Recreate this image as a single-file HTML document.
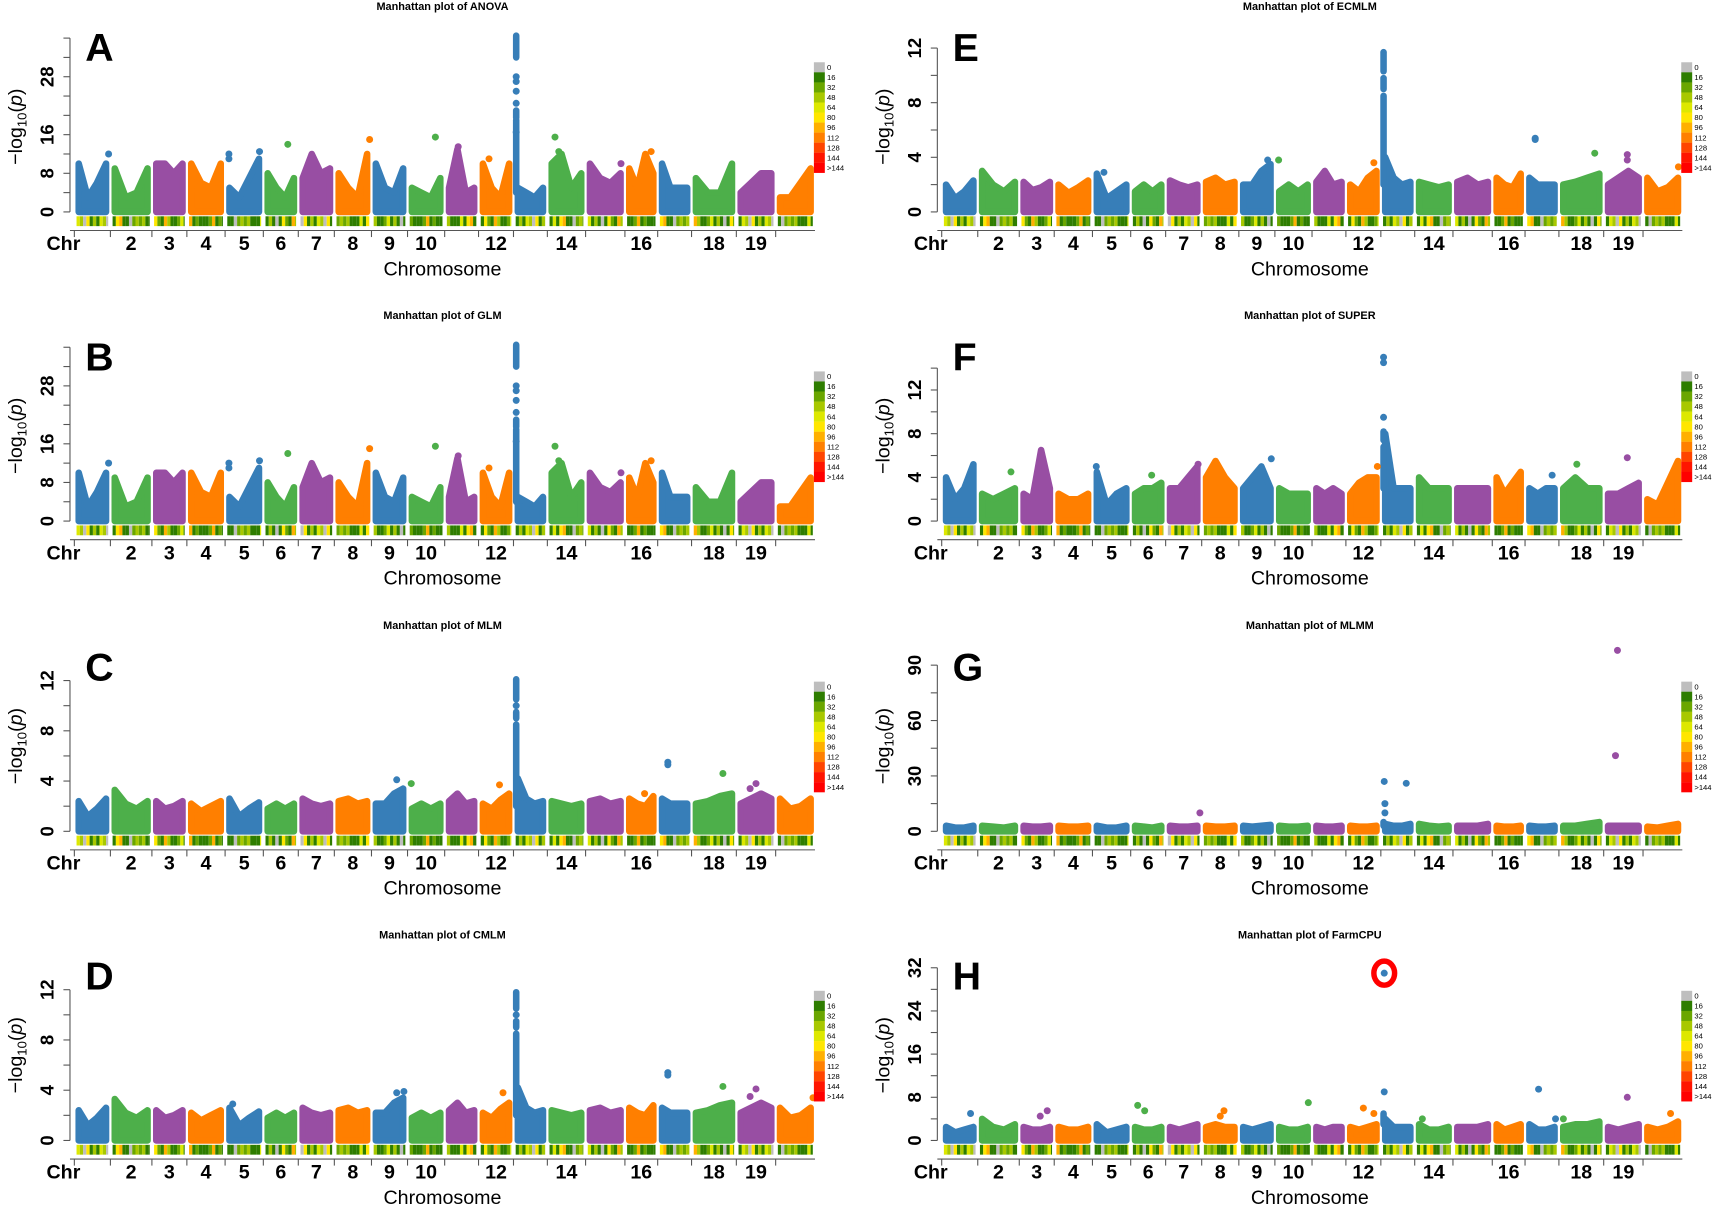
<!DOCTYPE html>
<html><head><meta charset="utf-8"><style>
html,body{margin:0;padding:0;background:#fff}
svg{display:block}
text{font-family:"Liberation Sans",sans-serif}
</style></head><body>
<svg id="fig" width="1713" height="1206" viewBox="0 0 1568 1104" xmlns="http://www.w3.org/2000/svg"></svg>
<script>
// ---- data ----
const chrLen = [33,38,32,35,35,32,33,34,33,34,31,32,31,35,36,30,31,41,36,36];
const chrTickLabels = ["Chr","2","3","4","5","6","7","8","9","10","","12","","14","","16","","18","19",""];
const envA = [[10,3,6,10],[9,3,4,9],[10,10,8,10],[10,6,5,10],[5,3,7,11],[8,5,3,7],[7,12,8,9],[8,5,3,12],[10,5,4,9],[5,4,3,7],[5,13,4,5],[10,5,3,10],[5,4,3,5],[10,12,5,8],[10,7,6,8],[9,5,12,8],[10,5,5,5],[7,4,4,10],[4,6,8,8],[3,3,6,9]];
const envE = [[2,1,1.5,2.3],[3,2,1.5,2.2],[2.2,1.6,1.8,2.2],[2,1.4,1.8,2.3],[2.8,1,1.5,2],[1.5,2,1.5,2],[2.3,2,1.8,2],[2.2,2.5,2,2.2],[2,2,3,3.5],[1.5,2,1.5,2],[2.2,3,2,2.2],[2,1.5,2.5,3],[4,2.5,2,2.2],[2.2,2,1.8,2],[2.2,2.5,2,2.2],[2.5,2,1.8,2.8],[2.5,2,2,2],[2,2.2,2.5,2.8],[2,2.5,3,2.5],[2.5,1.5,1.8,2.5]];
const envC = [[2.4,1.2,1.8,2.6],[3.3,2.2,1.8,2.4],[2.4,1.8,2,2.4],[2.2,1.6,2,2.4],[2.6,1.2,1.8,2.3],[1.8,2.2,1.8,2.2],[2.6,2.2,2,2.2],[2.4,2.6,2.2,2.4],[2.2,2.2,3,3.4],[1.8,2.2,1.8,2.2],[2.4,3,2.2,2.4],[2.2,1.8,2.5,3],[4.2,2.6,2.2,2.4],[2.4,2.2,2,2.2],[2.4,2.6,2.2,2.4],[2.6,2.2,2,2.8],[2.6,2.2,2.2,2.2],[2.2,2.4,2.8,3],[2.2,2.6,3,2.6],[2.6,1.8,2,2.6]];
const envF = [[4,2,3,5.2],[2.5,2,2.5,3],[2.5,2,6.5,3],[2.5,2,2,2.5],[4.5,1.5,2.5,3],[2.5,3,3,3.5],[3,3,4,5],[4,5.5,4,3],[3,4,5,3],[3,2.5,2.5,2.5],[3,2.5,3,2.5],[2.5,3.5,4,4],[8,3,3,3],[4,3,3,3],[3,3,3,3],[4,2.5,3.5,4.5],[3,2.5,3,3],[3,4,3,3],[2.5,2.5,3,3.5],[2,1.5,3.5,5.5]];
const envG = [[3,2,2,3],[3,2.5,2,3],[3,2.5,2.5,3],[3,2.5,2.5,3],[3,2,2,3],[3,2.5,2,3],[3,2.5,2.5,3],[3,2.5,2.5,3],[3,2.5,3,3.5],[3,2.5,2.5,3],[3,2.5,2.5,3],[3,2.5,2.5,3],[4,3,3,4],[4,3,2.5,3],[3,3,3,4],[3,2.5,2.5,3],[3,2.5,2.5,3],[3,3,4,5],[3,3,3,3],[2.5,2,3,4]];
const envH = [[2.5,1.5,2,2.5],[4,2.5,2,3],[2.5,2,2,2.5],[2.5,2,2,2.5],[3,1.5,2,2.5],[2.5,2,2,2.5],[2.5,2,2.5,3],[2.5,3,2.5,2.5],[2.5,2,2.5,3],[2.5,2,2,2.5],[2.5,2,2.5,2.5],[2.5,2,2.5,3],[4,2.5,2.5,2.5],[3,2,2,2.5],[2.5,2.5,2.5,3],[3,2,2.5,3],[3,2,2,2.5],[2.5,3,3,3.5],[2.5,2,2.5,3],[2.5,2,2.5,3.5]];
// spikes: chr, position, dense segments [from,to], single dots
const spikeChr = 13, spikePos = 0.08;
const spikeSegA = [[4,19],[19.5,21],[32,36.5]], spikeDotsA = [28,27,25,22.5,16.5];
const spikeSegC = [[2,8.5],[9,9.5],[10.5,12.1]], spikeDotsC = [10];
const spikeSegD = [[2,8.5],[9,9.5],[10.5,11.8]], spikeDotsD = [10];
const spikeSegE = [[2,8.5],[9,9.8],[10.3,11.7]], spikeDotsE = [];
const spikeSegF = [[3,6.8],[7.4,8.2]], spikeDotsF = [9.5,15,14.5];
const spikeSegG = [[3,5]], spikeDotsG = [];
const spikeSegH = [[3,5]], spikeDotsH = [];
// outliers: [chr, position, value]
const ptsA = [[1,0.95,12],[5,0.1,12],[5,0.1,11],[5,0.9,12.5],[6,0.7,14],[8,0.95,15],[10,0.75,15.5],[11,0.4,13.5],[14,0.2,15.5],[14,0.3,12.5],[15,0.9,10],[16,0.8,12.5],[12,0.3,11]];
const ptsC = [[17,0.3,5.5],[17,0.3,5.3],[9,0.7,4.1],[10,0.1,3.8],[12,0.6,3.7],[18,0.7,4.6],[19,0.5,3.8],[19,0.35,3.4],[16,0.6,3]];
const ptsD = [[17,0.3,5.4],[17,0.3,5.2],[9,0.7,3.8],[9,0.9,3.9],[12,0.7,3.8],[18,0.7,4.3],[19,0.5,4.1],[19,0.35,3.5],[5,0.2,2.9],[20,0.95,3.4]];
const ptsE = [[17,0.3,5.4],[17,0.3,5.3],[9,0.8,3.8],[10,0.1,3.8],[5,0.3,2.9],[12,0.8,3.6],[18,0.8,4.3],[19,0.6,4.2],[19,0.6,3.8],[20,0.9,3.3]];
const ptsF = [[2,0.8,4.5],[5,0.1,5],[6,0.6,4.2],[7,0.9,5.2],[9,0.9,5.7],[12,0.9,5],[17,0.8,4.2],[19,0.6,5.8],[18,0.4,5.2]];
const ptsG = [[13,0.1,27],[13,0.12,15],[13,0.12,10],[13,0.75,26],[7,0.95,10],[19,0.35,98],[19,0.3,41]];
const ptsH = [[1,0.8,5],[3,0.8,5.5],[3,0.6,4.5],[6,0.2,6.5],[6,0.4,5.5],[8,0.6,5.5],[8,0.5,4.5],[10,0.9,7],[12,0.5,6],[12,0.8,5],[13,0.1,9],[13,0.1,31],[14,0.2,4],[17,0.4,9.5],[17,0.9,4],[18,0.1,4],[19,0.6,8],[20,0.7,5]];
const legendLabels = ["0","16","32","48","64","80","96","112","128","144",">144"];
const legendColors = ["#BEBEBE","#2E7D00","#6AA600","#A8C800","#DDE800","#FFE600","#FFB000","#FF8000","#FF4500","#FF1500","#FF0000"];

const panels = [
 {id:"A",title:"ANOVA",x0:0,y0:0,ppu:4.42,step:4,max:36,labels:[0,8,16,28],env:envA,seg:spikeSegA,dots:spikeDotsA,pts:ptsA},
 {id:"B",title:"GLM",x0:0,y0:283,ppu:4.42,step:4,max:36,labels:[0,8,16,28],env:envA,seg:spikeSegA,dots:spikeDotsA,pts:ptsA},
 {id:"C",title:"MLM",x0:0,y0:567,ppu:11.5,step:2,max:12,labels:[0,4,8,12],env:envC,seg:spikeSegC,dots:spikeDotsC,pts:ptsC},
 {id:"D",title:"CMLM",x0:0,y0:850,ppu:11.5,step:2,max:12,labels:[0,4,8,12],env:envC,seg:spikeSegD,dots:spikeDotsD,pts:ptsD},
 {id:"E",title:"ECMLM",x0:794,y0:0,ppu:12.5,step:2,max:12,labels:[0,4,8,12],env:envE,seg:spikeSegE,dots:spikeDotsE,pts:ptsE},
 {id:"F",title:"SUPER",x0:794,y0:283,ppu:10,step:2,max:14,labels:[0,4,8,12],env:envF,seg:spikeSegF,dots:spikeDotsF,pts:ptsF},
 {id:"G",title:"MLMM",x0:794,y0:567,ppu:1.69,step:15,max:90,labels:[0,30,60,90],env:envG,seg:spikeSegG,dots:spikeDotsG,pts:ptsG},
 {id:"H",title:"FarmCPU",x0:794,y0:850,ppu:4.94,step:4,max:32,labels:[0,8,16,24,32],env:envH,seg:spikeSegH,dots:spikeDotsH,pts:ptsH}
];
const colors = ["#377EB8","#4DAF4A","#984EA3","#FF7F00"];
const densPattern = ["#2E7D00","#2E7D00","#6AA600","#DDE800","#2E7D00","#A8C800","#2E7D00","#BEBEBE","#2E7D00","#FFE600","#6AA600","#2E7D00","#FFB000","#A8C800"];

const NS="http://www.w3.org/2000/svg";
const svg=document.getElementById('fig');
function mk(tag,attrs,parent){const e=document.createElementNS(NS,tag);for(const k in attrs)e.setAttribute(k,attrs[k]);(parent||svg).appendChild(e);return e;}
const totalLen = chrLen.reduce((a,b)=>a+b,0);
const plotL=68, plotR=746;
function chrStart(i){let s=0;for(let k=0;k<i;k++)s+=chrLen[k];return s;}
function xPos(p,chr,pos){return p.x0+plotL+(chrStart(chr-1)+pos*chrLen[chr-1])/totalLen*(plotR-plotL);}
function yPos(p,v){return p.y0+194-v*p.ppu;}

panels.forEach(p=>{
  const g=mk('g',{});
  
  
  const zero=p.y0+194;
  const t=mk('text',{x:p.x0+405,y:p.y0+9,'text-anchor':'middle','font-size':'10','font-weight':'bold'},g);
  t.textContent='Manhattan plot of '+p.title;
  
  
  const L=mk('text',{x:p.x0+78,y:p.y0+56,'font-size':'36','font-weight':'bold'},g);
  L.textContent=p.id;
  
  
  const ax=p.x0+64, top=yPos(p,p.max);
  const yl=mk('line',{x1:ax,y1:zero,x2:ax,y2:top,stroke:'#555','stroke-width':1},g);
  
  
  for(let v=0;v<=p.max+0.001;v+=p.step){mk('line',{x1:ax-6,y1:yPos(p,v),x2:ax,y2:yPos(p,v),stroke:'#555'},g);}
  p.labels.forEach(v=>{
    const y=yPos(p,v);
    const tl=mk('text',{x:p.x0+49,y:y,'font-size':'17','font-weight':'bold','text-anchor':'middle',transform:`rotate(-90 ${p.x0+49} ${y})`},g);
    tl.textContent=v;
    
    
  });
  const yt=mk('text',{x:p.x0+20,y:zero-78,'font-size':'18','text-anchor':'middle',transform:`rotate(-90 ${p.x0+20} ${zero-78})`},g);
  yt.innerHTML='−log<tspan font-size="12" dy="4">10</tspan><tspan dy="-4">(</tspan><tspan font-style="italic">p</tspan>)';
  
  
  for(let c=1;c<=20;c++){
    const col=colors[(c-1)%4];
    const env=p.env[c-1];
    const xs=xPos(p,c,0)+4, xe=xPos(p,c,1)-4;
    let d=`M${xs},${zero} `;
    env.forEach((v,k)=>{d+=`L${xs+(xe-xs)*k/(env.length-1)},${yPos(p,v)} `;});
    d+=`L${xe},${zero} Z`;
    const b=mk('path',{d:d,fill:col,stroke:col,'stroke-width':6,'stroke-linejoin':'round'},g);
    
    
    const bx0=xPos(p,c,0)+2, bx1=xPos(p,c,1)-2;
    let k=c*3;
    for(let x=bx0;x<bx1;x+=3){
      mk('rect',{x:x,y:zero+4,width:Math.min(3,bx1-x),height:9,fill:densPattern[k%densPattern.length]},g);
      k+=(c%3)+1;
    }
    mk('line',{x1:xPos(p,c,0),y1:zero+17,x2:xPos(p,c,0),y2:zero+23,stroke:'#555'},g);
    if(chrTickLabels[c-1]){
      const xl=mk('text',{x:c===1?p.x0+58:xPos(p,c,0.5),y:zero+35,'font-size':'18','font-weight':'bold','text-anchor':'middle'},g);
      xl.textContent=chrTickLabels[c-1];
      
      
    }
  }
  const xa=mk('line',{x1:p.x0+64,y1:zero+17,x2:p.x0+plotR,y2:zero+17,stroke:'#555'},g);
  
  
  const xt=mk('text',{x:p.x0+405,y:zero+58,'font-size':'18','text-anchor':'middle'},g);
  xt.textContent='Chromosome';
  
  
  // spike
  const sc=colors[(spikeChr-1)%4], sx=xPos(p,spikeChr,spikePos);
  p.seg.forEach(s=>{
    const sp=mk('line',{x1:sx,y1:yPos(p,s[0]),x2:sx,y2:yPos(p,s[1]),stroke:sc,'stroke-width':6,'stroke-linecap':'round'},g);
    
    
  });
  p.dots.forEach(v=>{
    const ci=mk('circle',{cx:sx,cy:yPos(p,v),r:3.2,fill:sc},g);
    
    
  });
  p.pts.forEach(pt=>{
    const ci=mk('circle',{cx:xPos(p,pt[0],pt[1]),cy:yPos(p,pt[2]),r:3.2,fill:colors[(pt[0]-1)%4]},g);
    
    
  });
  const lx=p.x0+745, ly=p.y0+57;
  legendColors.forEach((cl,i)=>{
    const r=mk('rect',{x:lx,y:ly+i*9.2,width:10,height:9.3,fill:cl},g);
    
    
    const lt=mk('text',{x:lx+12,y:ly+i*9.2+7,'font-size':'7'},g);
    lt.textContent=legendLabels[i];
    
    
  });
});
const pH=panels[7];
const rc=mk('ellipse',{cx:xPos(pH,13,0.1),cy:yPos(pH,31),rx:9.5,ry:11,fill:'none',stroke:'#FF0000','stroke-width':5});


</script>
</body></html>
